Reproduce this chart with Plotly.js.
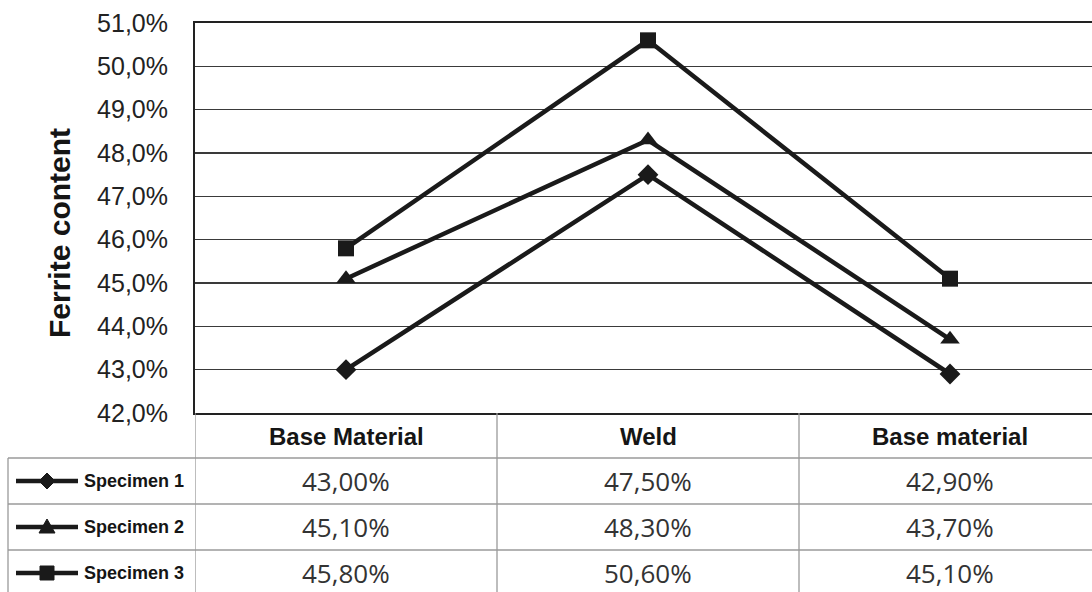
<!DOCTYPE html>
<html>
<head>
<meta charset="utf-8">
<script src="https://cdn.plot.ly/plotly-3.0.1.min.js"></script>
<style>html,body{margin:0;padding:0;background:#fff;}#chart{width:1092px;height:592px;}</style>
</head>
<body>
<div id="chart"></div>
<script>
const categories = ['Base Material', 'Weld', 'Base material'];
const seriesNames = ['Specimen 1', 'Specimen 2', 'Specimen 3'];
const specimen1 = [43.0, 47.5, 42.9];
const specimen2 = [45.1, 48.3, 43.7];
const specimen3 = [45.8, 50.6, 45.1];
const yTickVals = [42, 43, 44, 45, 46, 47, 48, 49, 50, 51];
const yTitle = 'Ferrite content';

const seriesValues = [specimen1, specimen2, specimen3];
const symbols = ['diamond', 'triangle-up', 'square'];
const symbolSizes = [16, 17, 16];

const W = 1092, H = 592, L = 195, T = 23, B = 179, R = 0;
const PW = W - L - R, PH = H - T - B;
const px = x => (x - L) / PW;
const py = y => (H - B - y) / PH;

const ink = '#1a1a1a';
const traces = seriesValues.map((vals, i) => ({
  type: 'scatter', mode: 'lines+markers',
  x: categories, y: vals, name: seriesNames[i],
  line: {color: ink, width: 4.5},
  marker: {symbol: symbols[i], size: symbolSizes[i], color: ink},
  cliponaxis: false, showlegend: false
}));

const fmt = v => v.toFixed(2).replace('.', ',') + '%';
const yTickText = yTickVals.map(v => v.toFixed(1).replace('.', ',') + '%');
const grey = '#9a9a9a';
const shapes = [];
const annotations = [];

// horizontal lines for data rows
[458, 504, 550].forEach(y => shapes.push({type: 'line', xref: 'paper', yref: 'paper', x0: px(8), x1: 1, y0: py(y), y1: py(y), line: {color: grey, width: 1.3}}));
// left border of data rows
shapes.push({type: 'line', xref: 'paper', yref: 'paper', x0: px(8), x1: px(8), y0: py(458), y1: py(596), line: {color: grey, width: 1.3}});
// column dividers (midpoints between categories)
[-0.5, 0.5, 1.5].forEach(x => shapes.push({type: 'line', xref: 'x', yref: 'paper', x0: x, x1: x, y0: py(413), y1: py(596), line: {color: grey, width: 1.3}}));

// header
categories.forEach(c => annotations.push({xref: 'x', yref: 'paper', x: c, y: py(436), text: c, showarrow: false, xanchor: 'center', yanchor: 'middle', font: {family: 'Liberation Sans, Arial', size: 24, color: '#151515', weight: 'bold'}}));

// rows
const rowCenters = [481, 527, 573];
seriesValues.forEach((vals, r) => {
  const yc = py(rowCenters[r]);
  vals.forEach((v, c) => annotations.push({xref: 'x', yref: 'paper', x: categories[c], y: yc, text: fmt(v), showarrow: false, xanchor: 'center', yanchor: 'middle', font: {family: 'Open Sans', size: 26, color: '#333'}}));
  annotations.push({xref: 'paper', yref: 'paper', x: px(82), y: yc, text: '<b>' + seriesNames[r] + '</b>', showarrow: false, xanchor: 'left', yanchor: 'middle', font: {family: 'Liberation Sans, Arial', size: 18, color: '#151515'}});
  // legend key line
  shapes.push({type: 'line', xref: 'paper', yref: 'paper', x0: px(16), x1: px(78), y0: yc, y1: yc, line: {color: ink, width: 4.5}});
  let path;
  if (r === 0) path = 'M0,8 L8,0 L0,-8 L-8,0 Z';
  else if (r === 1) path = 'M0,8 L8,-6 L-8,-6 Z';
  else path = 'M-7,7 L7,7 L7,-7 L-7,-7 Z';
  shapes.push({type: 'path', xref: 'paper', yref: 'paper', xsizemode: 'pixel', ysizemode: 'pixel', xanchor: px(47), yanchor: yc, path: path, fillcolor: ink, line: {color: ink, width: 1}});
});

// y-axis title
annotations.push({xref: 'paper', yref: 'paper', x: px(59), y: py(233), text: yTitle, textangle: -90, showarrow: false, xanchor: 'center', yanchor: 'middle', font: {family: 'Liberation Sans, Arial', size: 30, color: '#151515', weight: 'bold'}});

const layout = {
  width: W, height: H,
  margin: {l: L, r: R, t: T, b: B, pad: 0},
  paper_bgcolor: '#fff', plot_bgcolor: '#fff',
  showlegend: false,
  xaxis: {type: 'category', range: [-0.5, -0.5 + PW / 302], showgrid: false, zeroline: false,
          showticklabels: false, ticks: '', showline: true, mirror: true, linecolor: '#222', linewidth: 2},
  yaxis: {range: [42, 51], tickvals: yTickVals, ticktext: yTickText,
          showgrid: true, gridcolor: '#3a3a3a', gridwidth: 1.5, zeroline: false,
          showline: true, linecolor: '#222', linewidth: 2, ticks: '', ticklabelstandoff: 20,
          tickfont: {family: 'Liberation Sans, Arial', size: 25, color: '#222'}},
  shapes: shapes,
  annotations: annotations
};

Plotly.newPlot('chart', traces, layout, {displayModeBar: false, staticPlot: true});
</script>
</body>
</html>
